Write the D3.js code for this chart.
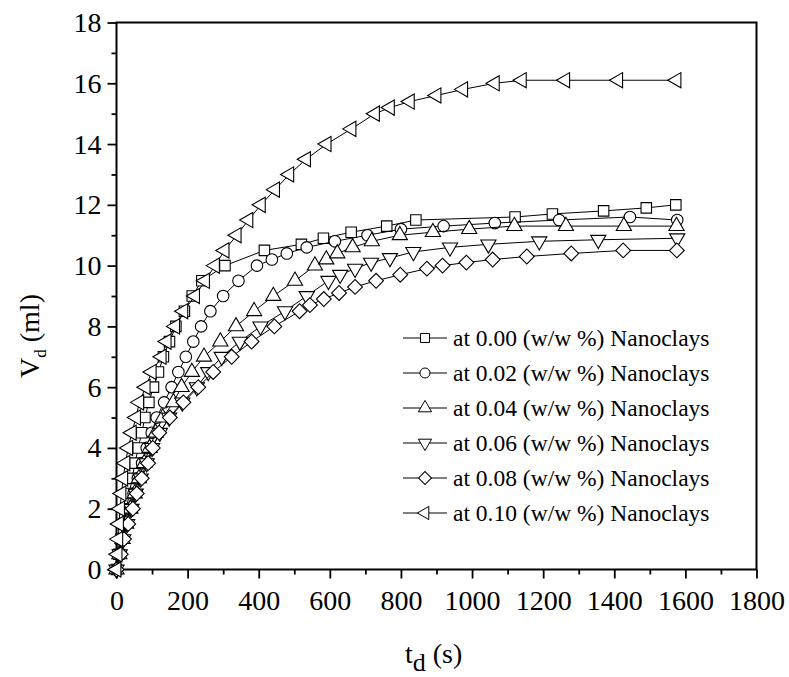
<!DOCTYPE html>
<html>
<head>
<meta charset="utf-8">
<script src="https://cdn.jsdelivr.net/npm/d3@7"></script>
<style>
  body { margin: 0; background: #fff; }
</style>
</head>
<body>
<svg id="chart" width="789" height="677"></svg>
<script>
// data: time (s) and drained volume (ml)
var seriesNames = ['at 0.00 (w/w %) Nanoclays', 'at 0.02 (w/w %) Nanoclays',
                   'at 0.04 (w/w %) Nanoclays', 'at 0.06 (w/w %) Nanoclays',
                   'at 0.08 (w/w %) Nanoclays', 'at 0.10 (w/w %) Nanoclays'];

var t000 = [0,6,13,20,28,36,44,52,61,71,80,91,104,118,132,149,167,191,213,240,305,416,520,582,660,760,842,1121,1226,1370,1490,1573];
var v000 = [0,0.5,1,1.5,2,2.5,3,3.5,4,4.5,5,5.5,6,6.5,7,7.5,8,8.5,9,9.5,10,10.5,10.7,10.9,11.1,11.3,11.5,11.6,11.7,11.8,11.9,12.0];

var t002 = [0,7,16,26,37,48,60,72,85,99,113,134,155,174,195,216,238,264,300,343,395,437,479,535,614,706,800,920,1064,1245,1444,1577];
var v002 = [0,0.5,1,1.5,2,2.5,3,3.5,4,4.5,5,5.5,6,6.5,7,7.5,8,8.5,9,9.5,10,10.2,10.4,10.6,10.8,11.0,11.2,11.3,11.4,11.5,11.6,11.5];

var t004 = [0,8,17,27,39,51,63,78,93,110,130,160,183,212,246,292,336,387,441,502,558,590,621,664,718,797,890,992,1119,1264,1427,1575];
var v004 = [0,0.5,1,1.5,2,2.5,3,3.5,4,4.5,5,5.5,6,6.5,7,7.5,8,8.5,9,9.5,10,10.2,10.4,10.6,10.8,11.0,11.1,11.2,11.3,11.3,11.3,11.3];

var t006 = [0,9,19,30,42,54,68,85,100,122,148,185,226,258,296,347,405,474,535,596,629,671,716,769,835,938,1046,1189,1355,1577];
var v006 = [0,0.5,1,1.5,2,2.5,3,3.5,4,4.5,5,5.5,6,6.5,7,7.5,8,8.5,9,9.5,9.7,9.9,10.1,10.25,10.45,10.6,10.7,10.8,10.85,10.9];

var t008 = [0,12,21,33,46,57,71,89,102,120,150,188,230,272,324,380,444,515,544,583,626,671,730,798,873,917,984,1058,1154,1279,1425,1576];
var v008 = [0,0.5,1,1.5,2,2.5,3,3.5,4,4.5,5,5.5,6,6.5,7,7.5,8,8.5,8.7,8.9,9.1,9.3,9.5,9.7,9.9,10.0,10.1,10.2,10.3,10.4,10.5,10.5];

var t010 = [0,3,5,7,10,14,19,25,33,43,55,64,82,99,127,141,165,188,221,249,277,304,338,371,406,446,486,533,591,661,727,769,825,900,975,1064,1140,1262,1411,1575];
var v010 = [0,0.5,1,1.5,2,2.5,3,3.5,4,4.5,5,5.5,6,6.5,7,7.5,8,8.5,9,9.5,10,10.5,11,11.5,12,12.5,13,13.5,14,14.5,15,15.2,15.4,15.6,15.8,16.0,16.1,16.1,16.1,16.1];

var xTicks = [0,200,400,600,800,1000,1200,1400,1600,1800];
var yTicks = [0,2,4,6,8,10,12,14,16,18];

var allT = [t000, t002, t004, t006, t008, t010];
var allV = [v000, v002, v004, v006, v008, v010];

// marker shapes: square, circle, up, down, diamond, left
var shapes = [
  {type: d3.symbolSquare, size: 110, rot: 0},
  {type: d3.symbolCircle, size: 105, rot: 0},
  {type: d3.symbolTriangle, size: 100, rot: 0},
  {type: d3.symbolTriangle, size: 100, rot: 180},
  {type: d3.symbolSquare, size: 110, rot: 45},
  {type: d3.symbolTriangle, size: 100, rot: -90}
];

var FONT = 'Liberation Serif';

var svg = d3.select('#chart');
var plotL = 116.5, plotR = 756.5, plotT = 22.5, plotB = 569.5;

var x = d3.scaleLinear().domain([0, 1800]).range([plotL, plotR]);
var y = d3.scaleLinear().domain([0, 18]).range([plotB, plotT]);

// minor ticks
var xMinor = d3.range(100, 1800, 200);
var yMinor = d3.range(1, 18, 2);

var axes = svg.append('g');

axes.append('g')
    .attr('transform', 'translate(0,' + plotB + ')')
    .call(d3.axisBottom(x).tickValues(xTicks).tickSize(9).tickPadding(12).tickFormat(d3.format('d')))
    .call(function(g) { g.select('.domain').remove(); });

axes.append('g')
    .attr('transform', 'translate(0,' + plotB + ')')
    .call(d3.axisBottom(x).tickValues(xMinor).tickSize(5).tickFormat(''))
    .call(function(g) { g.select('.domain').remove(); });

axes.append('g')
    .attr('transform', 'translate(' + plotL + ',0)')
    .call(d3.axisLeft(y).tickValues(yTicks).tickSize(9).tickPadding(6))
    .call(function(g) { g.select('.domain').remove(); });

axes.append('g')
    .attr('transform', 'translate(' + plotL + ',0)')
    .call(d3.axisLeft(y).tickValues(yMinor).tickSize(5).tickFormat(''))
    .call(function(g) { g.select('.domain').remove(); });

axes.selectAll('g').attr('font-family', FONT).attr('font-size', 28);
axes.selectAll('.tick line').attr('stroke', '#000').attr('stroke-width', 1.8);
axes.selectAll('.tick text')
    .attr('font-family', FONT)
    .attr('font-size', 28)
    .attr('fill', '#000');

// frame
svg.append('rect')
    .attr('x', plotL).attr('y', plotT)
    .attr('width', plotR - plotL).attr('height', plotB - plotT)
    .attr('fill', 'none').attr('stroke', '#000').attr('stroke-width', 2);

var line = d3.line()
    .x(function(d) { return x(d[0]); })
    .y(function(d) { return y(d[1]); });

function symbolPath(s) {
  return d3.symbol().type(s.type).size(s.size)();
}

for (var i = 0; i < allT.length; i++)
{
  var pts = allT[i].map(function(t, k) { return [t, allV[i][k]]; });
  var g = svg.append('g');

  g.append('path')
      .datum(pts)
      .attr('d', line)
      .attr('fill', 'none')
      .attr('stroke', '#000')
      .attr('stroke-width', 1);

  g.selectAll('path.mk')
      .data(pts)
      .enter().append('path')
      .attr('class', 'mk')
      .attr('d', symbolPath(shapes[i]))
      .attr('transform', function(d) {
        return 'translate(' + x(d[0]) + ',' + y(d[1]) + ') rotate(' + shapes[i].rot + ')';
      })
      .attr('fill', '#fff')
      .attr('stroke', '#000')
      .attr('stroke-width', 1.1);
}

// legend
var legend = svg.append('g');
var lx = 403, ly = 338, ldy = 35;
seriesNames.forEach(function(name, i)
{
  var row = legend.append('g').attr('transform', 'translate(' + lx + ',' + (ly + i * ldy) + ')');
  row.append('line')
      .attr('x1', 0).attr('x2', 44).attr('y1', 0).attr('y2', 0)
      .attr('stroke', '#000').attr('stroke-width', 1);
  row.append('path')
      .attr('d', d3.symbol().type(shapes[i].type).size(shapes[i].size * 0.75)())
      .attr('transform', 'translate(22,0) rotate(' + shapes[i].rot + ')')
      .attr('fill', '#fff').attr('stroke', '#000').attr('stroke-width', 1);
  row.append('text')
      .attr('x', 50).attr('y', 8)
      .attr('font-family', FONT)
      .attr('font-size', 23.5)
      .text(name);
});

// axis titles
var xt = svg.append('text')
    .attr('x', 405).attr('y', 663)
    .attr('font-family', FONT)
    .attr('font-size', 28);
xt.append('tspan').text('t');
xt.append('tspan').attr('dy', 8).attr('font-size', 26).text('d');
xt.append('tspan').attr('dy', -8).text(' (s)');

var yt = svg.append('text')
    .attr('transform', 'translate(39,336) rotate(-90)')
    .attr('text-anchor', 'middle')
    .attr('font-family', FONT)
    .attr('font-size', 28);
yt.append('tspan').text('V');
yt.append('tspan').attr('dy', 7).attr('font-size', 17).text('d');
yt.append('tspan').attr('dy', -7).text(' (ml)');
</script>
</body>
</html>
